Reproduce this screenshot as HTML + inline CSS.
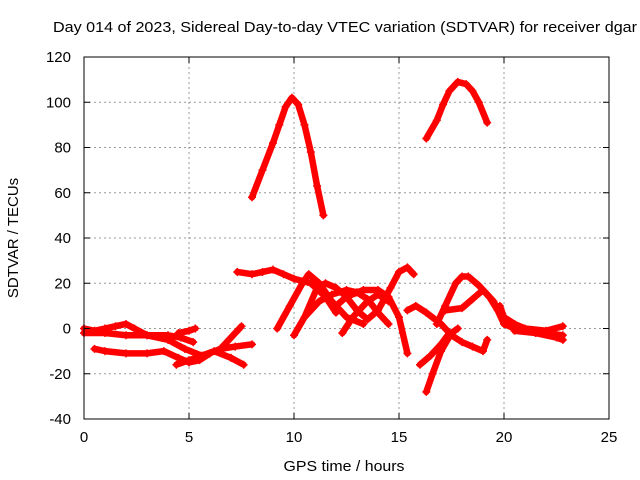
<!DOCTYPE html>
<html><head><meta charset="utf-8"><style>
body{margin:0;background:#fff;}
svg{display:block;font-family:"Liberation Sans",sans-serif;}
</style></head><body>
<svg id="chart" width="640" height="480">
<text x="53" y="32" font-size="15" textLength="584" lengthAdjust="spacingAndGlyphs" fill="#000">Day 014 of 2023, Sidereal Day-to-day VTEC variation (SDTVAR) for receiver dgar</text>
<g id="grid"></g>
<g id="series"></g>
<rect x="84" y="57" width="525" height="362" fill="none" stroke="#000" stroke-width="1"/>
<g id="ticks"></g>
<text x="344" y="471" font-size="15" textLength="121" lengthAdjust="spacingAndGlyphs" text-anchor="middle">GPS time / hours</text>
<text x="18" y="238" font-size="15" text-anchor="middle" transform="rotate(-90 18 238)">SDTVAR / TECUs</text>
</svg>
<script>
const xTicks=[0,5,10,15,20,25];
const yTicks=[-40,-20,0,20,40,60,80,100,120];
const s1=[[8.0,58],[8.5,70],[9.0,82],[9.3,90],[9.6,98],[9.9,102],[10.2,99],[10.5,90],[10.8,78],[11.1,63],[11.4,50]];
const s2=[[16.3,84],[16.8,92],[17.1,99],[17.4,105],[17.8,109],[18.2,108],[18.5,105],[18.8,100],[19.2,91]];
const s3=[[7.3,25],[8.0,24],[8.5,25],[9.0,26],[9.5,24],[10.0,22],[10.8,20],[11.5,14],[12.0,7]];
const s4=[[9.2,0],[9.8,10],[10.4,20],[10.7,24],[11.2,20],[11.8,12],[12.5,5],[13.3,2]];
const s5=[[0,0],[0.5,-1],[1,0],[1.5,1],[2,2],[2.4,0],[3,-3],[4,-3],[4.6,-4],[5.2,-6]];
const s6=[[0.5,-9],[1,-10],[2,-11],[3,-11],[3.8,-10],[4.5,-13],[5,-15],[5.5,-14],[6,-11]];
const s7=[[0,-2],[1,-2],[2,-3],[3,-3],[4,-5],[4.8,-9],[5.6,-12],[6.2,-10],[7,-13],[7.6,-16]];
const s8=[[4.4,-16],[5,-14],[5.7,-12],[6.5,-9],[7.2,-2],[7.5,1]];
const s9=[[4.5,-2],[5,-1],[5.3,0]];
const s10=[[6.5,-9],[7.2,-8],[8,-7]];
const s11=[[10,-3],[10.5,5],[11.2,12],[11.8,15],[12.5,17],[13,16],[13.5,13],[14,7],[14.5,2]];
const s12=[[11.5,14],[12,10],[12.5,14],[13.3,17],[14,17],[14.5,14],[15.0,5],[15.4,-11]];
const s13=[[10.5,5],[11.1,18],[11.5,20],[12,18],[12.5,14],[13,8],[13.5,4],[14,8],[14.6,18],[15,25],[15.4,27],[15.7,24]];
const s14=[[12.3,-2],[12.8,5],[13.5,12],[14,15],[14.5,12]];
const s15=[[15.4,8],[15.8,10],[16.3,7],[17,2],[17.5,-3],[18,-6],[18.5,-8],[19,-10],[19.2,-5]];
const s16=[[16.3,-28],[16.6,-20],[17,-10],[17.5,-2],[17.8,0]];
const s17=[[16.8,2],[17.2,10],[17.7,20],[18,23],[18.3,23],[18.8,19],[19.3,14],[19.7,8],[20,2],[20.5,0],[21,-1],[22,-2],[22.8,-3]];
const s18=[[17.2,8],[18,9],[18.5,13],[19,17],[19.5,12],[20,3]];
const s19=[[19.8,10],[20,5],[20.5,2],[21,0],[22,-1],[22.8,1]];
const s20=[[20.5,-1],[21.5,-2],[22.5,-4],[22.8,-5]];
const s21=[[16.0,-16],[16.5,-12],[17,-7],[17.4,-2]];
const allSeries=[s1,s2,s3,s4,s5,s6,s7,s8,s9,s10,s11,s12,s13,s14,s15,s16,s17,s18,s19,s20,s21];
const NS='http://www.w3.org/2000/svg';
const X=v=>84+v*(525/25);
const Y=v=>57+(120-v)*(362/160);
const grid=document.getElementById('grid'),ticks=document.getElementById('ticks'),ser=document.getElementById('series');
function mk(tag,attrs,parent){const e=document.createElementNS(NS,tag);for(const k in attrs)e.setAttribute(k,attrs[k]);parent.appendChild(e);return e;}
xTicks.forEach(t=>{
  const x=X(t);
  if(t>0&&t<25){const g=mk('line',{x1:x,y1:57,x2:x,y2:419,stroke:'#999','stroke-dasharray':'2,3'},grid);
  
  }
  mk('line',{x1:x,y1:419,x2:x,y2:413,stroke:'#000'},ticks);
  mk('line',{x1:x,y1:57,x2:x,y2:63,stroke:'#000'},ticks);
  const l=mk('text',{x:x,y:442,'font-size':15,'text-anchor':'middle'},ticks);l.textContent=t;
  
  
});
yTicks.forEach(t=>{
  const y=Y(t);
  if(t>-40&&t<120){const g=mk('line',{x1:84,y1:y,x2:609,y2:y,stroke:'#999','stroke-dasharray':'2,3'},grid);
  
  }
  mk('line',{x1:84,y1:y,x2:90,y2:y,stroke:'#000'},ticks);
  mk('line',{x1:609,y1:y,x2:603,y2:y,stroke:'#000'},ticks);
  const l=mk('text',{x:71,y:y+5,'font-size':15,'text-anchor':'end'},ticks);l.textContent=t;
  
  
});
allSeries.forEach((s,i)=>{
  const p=mk('polyline',{points:s.map(d=>X(d[0])+','+Y(d[1])).join(' '),fill:'none',stroke:'#f00','stroke-width':6.5,'stroke-linejoin':'round','stroke-linecap':'round'},ser);
  
  
  s.forEach(d=>{
    const x=X(d[0]),y=Y(d[1]);
    const m=mk('path',{d:`M${x-4},${y}H${x+4}M${x},${y-4}V${y+4}`,stroke:'#f00','stroke-width':1.5},ser);
    
    
  });
});
</script>
</body></html>
